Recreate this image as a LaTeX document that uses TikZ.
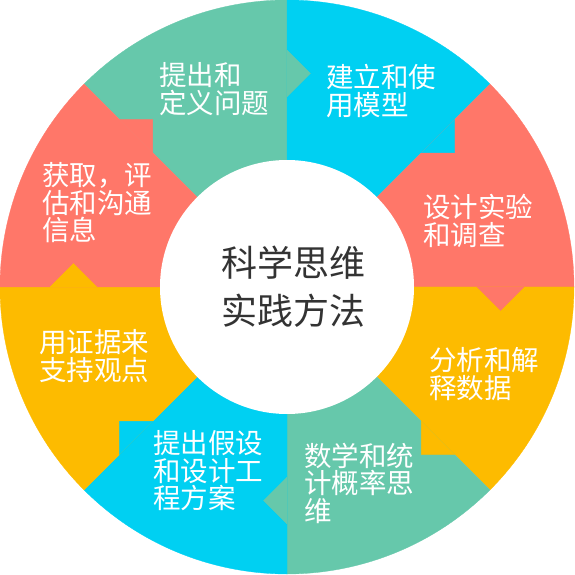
\documentclass[tikz,border=0pt]{standalone}
\usepackage{fontspec}
\newfontfamily\cjk{Noto Sans CJK SC}
\definecolor{sgreen}{HTML}{66C8AB}
\definecolor{scyan}{HTML}{00D0F2}
\definecolor{sred}{HTML}{FF7769}
\definecolor{syellow}{HTML}{FDBB00}
\definecolor{hubgray}{HTML}{333333}
\begin{document}
\begin{tikzpicture}[x=1pt,y=1pt,
  ptext/.style={anchor=west,align=left,inner sep=0pt,text=white,font=\cjk\fontsize{27.5}{27.5}\selectfont}]
\useasboundingbox (-287,-288) rectangle (287,287);
% eight wedges, given by start angle and colour
\foreach \s/\c in {90/sgreen,45/scyan,0/sred,-45/syellow,-90/sgreen,-135/scyan,180/syellow,135/sred}
  \filldraw[fill=\c,draw=\c,line width=0.3pt] (0,0) -- (\s:287) arc[start angle=\s,end angle=\s+45,radius=287pt] -- cycle;
% arrow tabs pointing clockwise into the next wedge
\foreach \s/\c in {90/sgreen,45/scyan,0/sred,-45/syellow,-90/sgreen,-135/scyan,180/syellow,135/sred}
  \filldraw[fill=\c,draw=\c,line width=0.3pt,rotate=\s] (190,0) -- (237,0) -- (213.5,-23.5) -- cycle;
\fill[white] (0,0) circle[radius=127pt];
\node[align=center,inner sep=0pt,text=hubgray,font=\cjk\fontsize{36}{48}\selectfont] (hub) at (6,0) {科学思维\\实践方法};
\node[ptext] (q1) at (-128,198) {提出和\\定义问题};
\node[ptext] (q2) at (39,196) {建立和使\\用模型};
\node[ptext] (q3) at (136,66) {设计实验\\和调查};
\node[ptext] (q4) at (142,-87) {分析和解\\释数据};
\node[ptext] (q5) at (17,-196) {数学和统\\计概率思\\维};
\node[ptext] (q6) at (-134,-184) {提出假设\\和设计工\\程方案};
\node[ptext] (q7) at (-248,-69) {用证据来\\支持观点};
\node[ptext] (q8) at (-245,84) {获取，评\\估和沟通\\信息};
\end{tikzpicture}
\end{document}
